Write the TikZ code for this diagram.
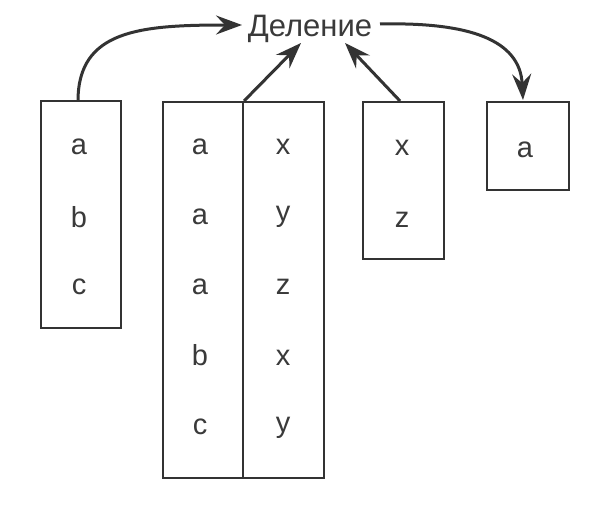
\documentclass[tikz,border=0pt]{standalone}
\usepackage{fontspec}
\setmainfont{Liberation Sans}
\usetikzlibrary{arrows.meta,calc}
\definecolor{ink}{HTML}{333333}
\definecolor{txt}{HTML}{3A3A3A}
\begin{document}
\begin{tikzpicture}[x=1pt,y=1pt,
  cell/.style={draw=ink,line width=2.2pt,fill=none,inner sep=0pt},
  lbl/.style={text=txt,font=\fontsize{29}{33}\selectfont,inner sep=0pt,anchor=center},
  arr/.style={draw=ink,line width=3pt,-{Stealth[length=26pt,width=19pt,inset=9pt]}}]
\useasboundingbox[fill=white] (0,0) rectangle (594,-516);
% boxes
\node[cell,minimum width=80pt,minimum height=227pt] (L) at (81,-214.5) {};
\node[cell,minimum width=80pt,minimum height=376pt] (M1) at (203,-290) {};
\node[cell,minimum width=81pt,minimum height=376pt] (M2) at (283.5,-290) {};
\node[cell,minimum width=81pt,minimum height=157pt] (X) at (403.5,-180.5) {};
\node[cell,minimum width=82pt,minimum height=88pt] (A) at (528,-146) {};
% labels left box
\node[lbl] (l1) at (79,-147) {a};
\node[lbl] (l2) at (79,-217) {b};
\node[lbl] (l3) at (79,-287) {c};
% middle table
\node[lbl] (m11) at (200,-147) {a};
\node[lbl] (m12) at (200,-217) {a};
\node[lbl] (m13) at (200,-287) {a};
\node[lbl] (m14) at (200,-355) {b};
\node[lbl] (m15) at (200,-427) {c};
\node[lbl] (m21) at (283,-147) {x};
\node[lbl] (m22) at (283,-217) {y};
\node[lbl] (m23) at (283,-287) {z};
\node[lbl] (m24) at (283,-358) {x};
\node[lbl] (m25) at (283,-428) {y};
% xz box
\node[lbl] (x1) at (402,-148) {x};
\node[lbl] (x2) at (402,-220) {z};
% a box
\node[lbl] (a1) at (525,-150) {a};
% title
\node[text=txt,font=\fontsize{31}{35}\selectfont,inner sep=0pt,anchor=base] (D) at (310,-37) {Деление};
% coordinates for arrow ends
\coordinate (Lout) at (78,-101);
\coordinate (Lin) at (242,-25);
\coordinate (Mout) at (M1.north east);
\coordinate (Min) at (301,-43);
\coordinate (Xout) at (400,-101);
\coordinate (Xin) at (345,-43);
\coordinate (Dout) at (380,-24);
\coordinate (Ain) at (523,-100);
% arrows
\draw[arr] (Lout) .. controls (78,-30) and (140,-25) .. (Lin);
\draw[arr] (Mout) -- (Min);
\draw[arr] (Xout) -- (Xin);
\draw[arr] (Dout) .. controls (470,-22) and (520,-40) .. (Ain);
\end{tikzpicture}
\end{document}
